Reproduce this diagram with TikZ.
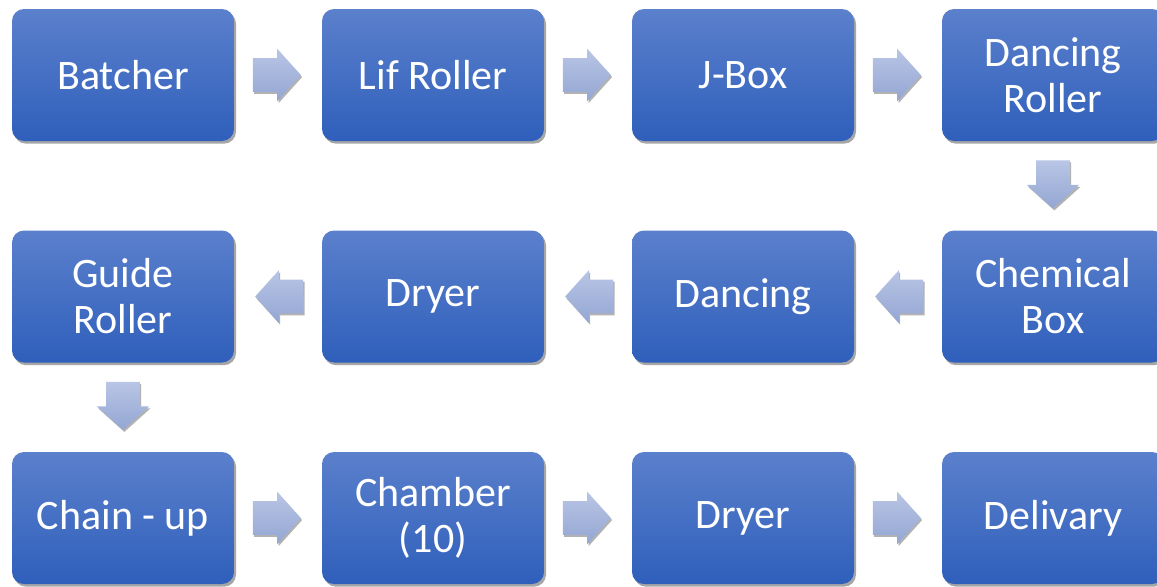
\documentclass[tikz,border=0pt]{standalone}
\usepackage{fontspec}
\setmainfont{Carlito}
\usetikzlibrary{shapes.arrows,shadows}

\definecolor{boxtop}{HTML}{5B80CC}
\definecolor{boxbot}{HTML}{2F5FBB}
\definecolor{arrtop}{HTML}{B9C5E5}
\definecolor{arrbot}{HTML}{93A6D3}

\tikzset{
  stagebox/.style={rectangle, rounded corners=9pt, minimum width=166.5pt,
    minimum height=99pt, inner sep=0pt, top color=boxtop, bottom color=boxbot,
    draw=none, text=white, align=center,
    font=\fontsize{31.5}{34.5}\selectfont,
    drop shadow={shadow xshift=1.5pt, shadow yshift=-2pt, opacity=0.35, fill=black}},
  flowarrow/.style={single arrow, single arrow head extend=7.1pt,
    single arrow tip angle=96, single arrow head indent=0pt,
    minimum height=36pt, inner xsep=0pt, inner ysep=12.4pt, pos=0.4,
    top color=arrtop, bottom color=arrbot, draw=none,
    drop shadow={shadow xshift=1pt, shadow yshift=-1.5pt, opacity=0.3, fill=black}},
  downarrow/.style={flowarrow, shape border rotate=270,
    inner xsep=12.4pt, inner ysep=0pt},
  leftarrow/.style={flowarrow, shape border rotate=180},
}

\begin{document}
\begin{tikzpicture}[x=0.75pt, y=-0.75pt]
    \useasboundingbox (0,0) rectangle (1157,586) ;

    % first row
    \node [stagebox] (batcher) at (123,75) {Batcher} ;
    \node [stagebox] (lif) at (433,75) {Lif Roller} ;
    \node [stagebox] (jbox) at (743,75) {J-Box} ;
    \node [stagebox] (dancroll) at (1053,75) {Dancing\\Roller} ;

    % second row
    \node [stagebox] (chembox) at (1053,296.5) {Chemical\\Box} ;
    \node [stagebox] (dancing) at (743,296.5) {Dancing} ;
    \node [stagebox] (dryerA) at (433,296.5) {Dryer} ;
    \node [stagebox] (guide) at (123,296.5) {Guide\\Roller} ;

    % third row
    \node [stagebox] (chain) at (123,518) {Chain - up} ;
    \node [stagebox] (chamber) at (433,518) {Chamber\\(10)} ;
    \node [stagebox] (dryerB) at (743,518) {Dryer} ;
    \node [stagebox] (delivary) at (1053,518) {Delivary} ;

    % block arrows
    \path (batcher) -- node [flowarrow] {} (lif) ;
    \path (lif) -- node [flowarrow] {} (jbox) ;
    \path (jbox) -- node [flowarrow] {} (dancroll) ;
    \path (dancroll) -- node [downarrow] {} (chembox) ;
    \path (chembox) -- node [leftarrow] {} (dancing) ;
    \path (dancing) -- node [leftarrow] {} (dryerA) ;
    \path (dryerA) -- node [leftarrow] {} (guide) ;
    \path (guide) -- node [downarrow] {} (chain) ;
    \path (chain) -- node [flowarrow] {} (chamber) ;
    \path (chamber) -- node [flowarrow] {} (dryerB) ;
    \path (dryerB) -- node [flowarrow] {} (delivary) ;
\end{tikzpicture}
\end{document}
